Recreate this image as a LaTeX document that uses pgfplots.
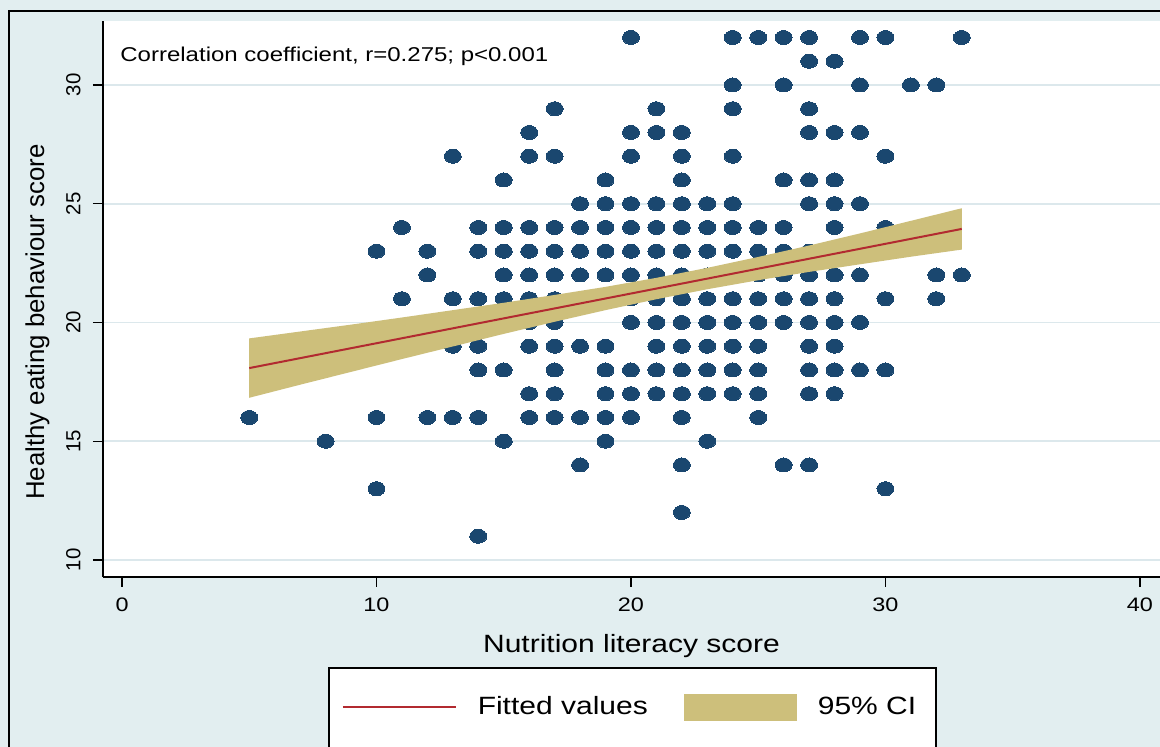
\documentclass[border=0pt]{standalone}
\usepackage{fontspec}
\setmainfont{Liberation Sans}[FakeStretch=1.2]
\newfontfamily\vfont{Liberation Sans}
\usepackage{pgfplots}
\pgfplotsset{compat=1.18}
\definecolor{bgc}{HTML}{E2EEF0}
\definecolor{dotc}{HTML}{1A476F}
\definecolor{fitc}{HTML}{B22A30}
\definecolor{cic}{HTML}{CDBF7B}
\definecolor{gridc}{HTML}{DCE8EC}
\pgfplotsset{
  linelegend/.style={legend image code/.code={\draw[##1] (0pt,0pt) -- (56.5pt,0pt);}},
  boxlegend/.style={legend image code/.code={\fill[##1] (0pt,-6.75pt) rectangle (56.5pt,6.75pt);}},
}
\begin{document}
\begin{tikzpicture}
\useasboundingbox (0pt,0pt) rectangle (580pt,373.5pt);
\clip (0pt,0pt) rectangle (580pt,373.5pt);
\fill[bgc] (0pt,0pt) rectangle (580pt,373.5pt);
\draw[line width=1.2pt] (4.5pt,-5pt) -- (4.5pt,368pt) -- (590pt,368pt);
\draw[fill=white, line width=0.6pt] (164.5pt,-5pt) rectangle (468pt,39.5pt);
\begin{axis}[
  at={(51.5pt,85pt)}, anchor=south west, scale only axis,
  width=528.5pt, height=278pt,
  xmin=-0.747, xmax=40.79, ymin=9.284, ymax=32.695,
  clip marker paths=true,
  axis x line*=bottom, axis y line*=left,
  axis line style={-, line width=0.6pt, black},
  xtick={0,10,20,30,40}, ytick={10,15,20,25,30},
  tick align=outside, major tick length=5pt,
  tick style={line width=0.6pt, black},
  ymajorgrids, grid style={gridc, line width=0.8pt},
  axis background/.style={fill=white},
  /pgf/number format/assume math mode=true,
  xticklabel shift=5pt, yticklabel shift=6pt,
  xticklabel style={font=\fontsize{9.75}{11}\selectfont, inner sep=0pt, anchor=north},
  yticklabel style={font=\vfont\fontsize{10.2}{11}\selectfont, rotate=90, anchor=south, inner sep=0pt},
  xlabel={Nutrition literacy score},
  xlabel style={at={(axis description cs:0.5,-0.1025)}, anchor=north, inner sep=0pt, font=\fontsize{12.5}{15}\selectfont},
  ylabel={Healthy eating behaviour score},
  ylabel style={at={(axis description cs:-0.0738,0.4586)}, anchor=north, inner sep=0pt, font=\vfont\fontsize{12.9}{15}\selectfont},
  legend columns=2,
  legend style={draw=none, fill=none, at={(axis description cs:0.2255,-0.234)}, anchor=west,
    font=\fontsize{12.5}{15}\selectfont, inner sep=0pt, nodes={inner sep=0pt},
    column sep=10.5pt, /tikz/every even column/.append style={column sep=18pt}},
]
\addplot[dotc, only marks, mark=*, mark size=3.5pt, mark options={fill=dotc, draw=dotc, line width=0pt, xscale=1.21}, forget plot] table {
x y
20 32
24 32
25 32
26 32
27 32
29 32
30 32
33 32
27 31
28 31
24 30
26 30
29 30
31 30
32 30
17 29
21 29
24 29
27 29
16 28
20 28
21 28
22 28
27 28
28 28
29 28
13 27
16 27
17 27
20 27
22 27
24 27
30 27
15 26
19 26
22 26
26 26
27 26
28 26
18 25
19 25
20 25
21 25
22 25
23 25
24 25
27 25
28 25
29 25
11 24
14 24
15 24
16 24
17 24
18 24
19 24
20 24
21 24
22 24
23 24
24 24
25 24
26 24
28 24
30 24
10 23
12 23
14 23
15 23
16 23
17 23
18 23
19 23
20 23
21 23
22 23
23 23
24 23
25 23
26 23
27 23
28 23
29 23
12 22
15 22
16 22
17 22
18 22
19 22
20 22
21 22
22 22
23 22
24 22
25 22
26 22
27 22
28 22
29 22
32 22
33 22
11 21
13 21
14 21
15 21
16 21
17 21
18 21
19 21
20 21
21 21
22 21
23 21
24 21
25 21
26 21
27 21
28 21
30 21
32 21
13 20
14 20
15 20
16 20
17 20
20 20
21 20
22 20
23 20
24 20
25 20
26 20
27 20
28 20
29 20
13 19
14 19
16 19
17 19
18 19
19 19
21 19
22 19
23 19
24 19
25 19
27 19
28 19
14 18
15 18
17 18
19 18
20 18
21 18
22 18
23 18
24 18
25 18
27 18
28 18
29 18
30 18
16 17
17 17
19 17
20 17
21 17
22 17
23 17
24 17
25 17
27 17
28 17
5 16
10 16
12 16
13 16
14 16
16 16
17 16
18 16
19 16
20 16
22 16
25 16
8 15
15 15
19 15
23 15
18 14
22 14
26 14
27 14
10 13
30 13
22 12
14 11
};
\addplot[fill=cic, draw=none, forget plot] coordinates {
(5,19.33) (7,19.62) (9,19.91) (11,20.21) (13,20.52) (15,20.83) (17,21.16) (19,21.50) (21,21.88) (23,22.30) (25,22.76) (27,23.24) (29,23.75) (31,24.28) (33,24.81)
(33,23.07) (31,22.77) (29,22.45) (27,22.13) (25,21.78) (23,21.40) (21,20.98) (19,20.52) (17,20.03) (15,19.52) (13,18.99) (11,18.46) (9,17.92) (7,17.38) (5,16.83)
};
\addplot[fitc, line width=1pt, linelegend] coordinates {(5,18.08) (33,23.94)};
\addlegendentry{Fitted values}
\addlegendimage{fill=cic, draw=none, boxlegend}
\addlegendentry{95\% CI}
\node[anchor=base west, inner sep=0pt, font=\fontsize{10}{12}\selectfont] at (axis description cs:0.0161,0.928) {Correlation coefficient, r=0.275; p<0.001};
\end{axis}
\end{tikzpicture}
\end{document}
